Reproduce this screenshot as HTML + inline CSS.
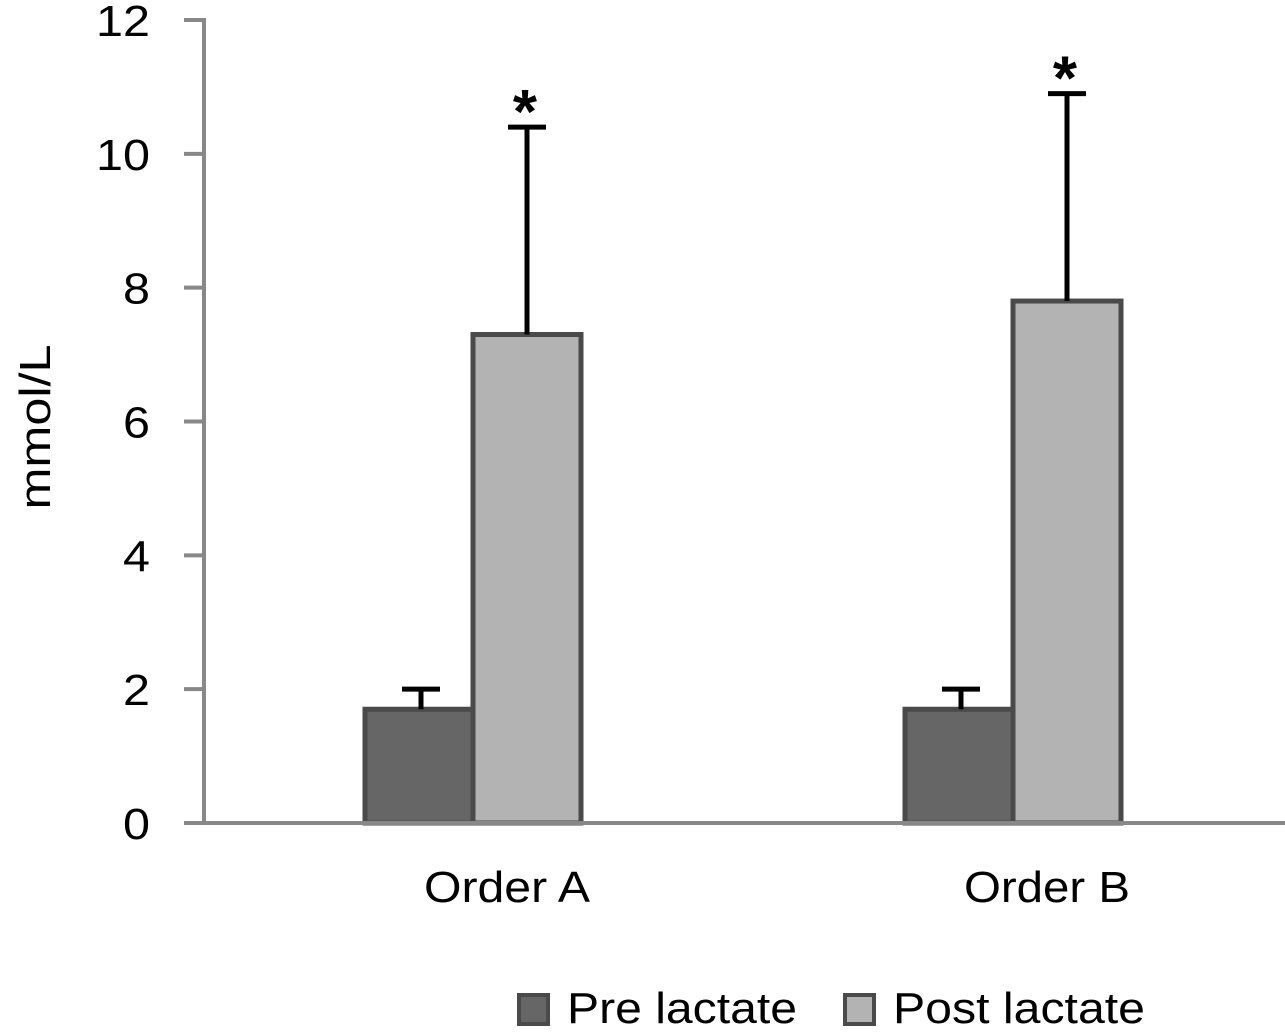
<!DOCTYPE html>
<html><head><meta charset="utf-8"><style>
html,body{margin:0;padding:0;background:#fff;}
svg{display:block;font-family:"Liberation Sans",Arial,sans-serif;}
</style></head><body>
<svg id="chart" width="1285" height="1035"></svg>
<script>
const categories = ["Order A", "Order B"];
const seriesNames = ["Pre lactate", "Post lactate"];
const preValues = [1.7, 1.7];
const preErrors = [0.3, 0.3];
const postValues = [7.3, 7.8];
const postErrors = [3.1, 3.1];
const significant = [true, true];
const yTicks = [0, 2, 4, 6, 8, 10, 12];

const svg = document.getElementById('chart');
const NS = 'http://www.w3.org/2000/svg';
const y0 = 823, yTop = 20, yMax = 12;
const yScale = v => y0 - (v / yMax) * (y0 - yTop);
const axisX = 204;
const groupCenters = [473, 1013];
const barW = 108;
function mk(tag, attrs, parent) {
  const el = document.createElementNS(NS, tag);
  for (const k in attrs) el.setAttribute(k, attrs[k]);
  (parent || svg).appendChild(el);
  return el;
}
const yt = mk('text', {x: 0, y: 0, 'font-size': 44, 'text-anchor': 'middle', textLength: 165, lengthAdjust: 'spacingAndGlyphs', transform: 'translate(50,427) rotate(-90)', fill: '#000'});
yt.textContent = 'mmol/L';


yTicks.forEach(t => {
  const y = yScale(t);
  const tk = mk('line', {x1: 184, x2: axisX, y1: y, y2: y, stroke: '#888', 'stroke-width': 4});
  
  
  const s = String(t);
  const lb = mk('text', {x: 150, y: y + 16, 'font-size': 44, 'text-anchor': 'end', textLength: 27 * s.length, lengthAdjust: 'spacingAndGlyphs', fill: '#000'});
  lb.textContent = s;
  
  
});
const ya = mk('line', {x1: axisX, x2: axisX, y1: 18, y2: y0 + 2, stroke: '#888', 'stroke-width': 4});


function errBar(cx, v, e, name) {
  const g = mk('g', {});
  
  
  mk('line', {x1: cx, x2: cx, y1: yScale(v), y2: yScale(v + e), stroke: '#000', 'stroke-width': 5}, g);
  mk('line', {x1: cx - 19, x2: cx + 19, y1: yScale(v + e), y2: yScale(v + e), stroke: '#000', 'stroke-width': 5}, g);
}
categories.forEach((c, i) => {
  const gc = groupCenters[i];
  const px = gc - barW, qx = gc;
  const pre = mk('rect', {x: px, y: yScale(preValues[i]), width: barW, height: y0 - yScale(preValues[i]), fill: '#666', stroke: '#4a4a4a', 'stroke-width': 5});
  
  
  const post = mk('rect', {x: qx, y: yScale(postValues[i]), width: barW, height: y0 - yScale(postValues[i]), fill: '#b3b3b3', stroke: '#4a4a4a', 'stroke-width': 5});
  
  
  errBar(px + barW / 2 + 2, preValues[i], preErrors[i], 'error-bar-pre');
  errBar(qx + barW / 2, postValues[i], postErrors[i], 'error-bar-post');
  if (significant[i]) {
    const s = mk('text', {x: qx + barW / 2 - 2, y: yScale(postValues[i] + postErrors[i]) + 6, 'font-size': 62, 'font-weight': 'bold', 'text-anchor': 'middle', fill: '#000'});
    s.textContent = '*';
    
    
  }
  const cl = mk('text', {x: gc + 34, y: 902, 'font-size': 44, 'text-anchor': 'middle', textLength: 166, lengthAdjust: 'spacingAndGlyphs', fill: '#000'});
  cl.textContent = c;
  
  
});
const xa = mk('line', {x1: 184, x2: 1285, y1: y0, y2: y0, stroke: '#888', 'stroke-width': 4});


const legX = [517, 843], legFill = ['#666', '#b3b3b3'], legLen = [230, 252];
seriesNames.forEach((n, i) => {
  const g = mk('g', {});
  
  
  mk('rect', {x: legX[i] + 2, y: 995, width: 29, height: 29, fill: legFill[i], stroke: '#4a4a4a', 'stroke-width': 4}, g);
  const t = mk('text', {x: legX[i] + 50, y: 1023, 'font-size': 44, textLength: legLen[i], lengthAdjust: 'spacingAndGlyphs', fill: '#000'}, g);
  t.textContent = n;
});
</script>
</body></html>
